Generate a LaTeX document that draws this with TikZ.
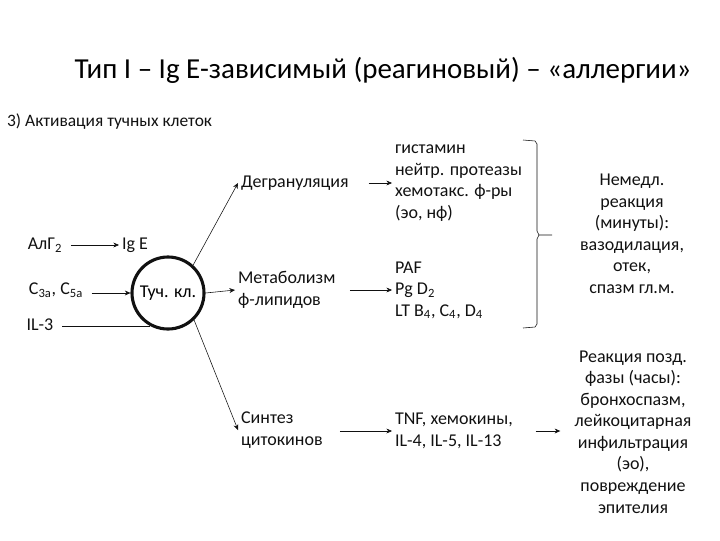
\documentclass[tikz,border=0pt]{standalone}
\usepackage{fontspec}
\setmainfont{Carlito}
\usetikzlibrary{arrows.meta,positioning,calc}
\definecolor{alInk}{HTML}{111111}
\tikzset{
  txt/.style={inner sep=2pt, font=\fontsize{12.8}{15.3}\selectfont, align=left, text=alInk},
  txtC/.style={txt, align=center},
  cellc/.style={circle, draw=alInk, line width=2.2pt, minimum size=1.8cm, inner sep=0pt, font=\fontsize{12.8}{14}\selectfont},
  arr/.style={-{Stealth[length=4pt,width=3.5pt]}, thin, draw=alInk},
  ln/.style={thin, draw=alInk},
}

\begin{document}
\begin{tikzpicture}[x=0.025cm, y=-0.025cm]
            \useasboundingbox (0,0) rectangle (720,540);
            \node[font=\fontsize{20.6}{24}\selectfont] (title) at (383,70) {Тип I – Ig E-зависимый (реагиновый) – «аллергии»};
            \node[txt, anchor=west, font=\fontsize{12.4}{14}\selectfont] (sub) at (4,122) {3) Активация тучных клеток};
            \node[cellc] (cell) at (168,293) {Туч. кл.};
            \node[txt] (alg) at (45,245) {АлГ\textsubscript{2}};
            \node[txt] (ige) at (135,245) {Ig E};
            \node[txt] (c35) at (56,290) {C\textsubscript{3a}, C\textsubscript{5a}};
            \node[txt] (il3) at (40,325) {IL-3};
            \node[txt, anchor=west] (degr) at (238,183) {Дегрануляция};
            \node[txt, anchor=west] (metab) at (235,290) {Метаболизм\\ф-липидов};
            \node[txt, anchor=west] (synth) at (238,430) {Синтез\\цитокинов};
            \node[txt, anchor=west] (gist) at (392,183) {гистамин\\нейтр. протеазы\\хемотакс. ф-ры\\(эо, нф)};
            \node[txt, anchor=west] (paf) at (392,290) {PAF\\Pg D\textsubscript{2}\\LT B\textsubscript{4}, C\textsubscript{4}, D\textsubscript{4}};
            \node[txt, anchor=west] (tnf) at (392,431) {TNF, хемокины,\\IL-4, IL-5, IL-13};
            \node[txtC] (imm) at (632,234) {Немедл.\\реакция\\(минуты):\\вазодилация,\\отек,\\спазм гл.м.};
            \node[txtC] (late) at (633,432) {Реакция позд.\\фазы (часы):\\бронхоспазм,\\лейкоцитарная\\инфильтрация\\(эо),\\повреждение\\эпителия};
            \coordinate (brtop) at (523,140);
            \coordinate (brmid) at (539,235);
            \coordinate (brbot) at (523,328);
            % inputs
            \draw[arr, shorten <=4pt] (alg.east) -- (ige.west);
            \draw[arr, shorten <=4pt] (c35.east |- cell.west) -- (cell.west);
            \draw[ln, shorten <=4pt] (il3.east |- cell.241) -- (cell.241);
            % outputs
            \draw[arr] (cell.48) -- (degr.west);
            \draw[arr] (cell.east) -- (metab.west);
            \draw[arr] (cell.-46) -- (synth.west);
            \draw[arr, shorten <=12pt] (degr.east) -- (gist.west);
            \draw[arr, shorten <=8pt] (metab.east) -- (metab.east -| paf.west);
            \draw[arr, shorten <=10pt] (synth.east |- tnf.west) -- (tnf.west);
            \draw[arr, shorten <=14pt, shorten >=8pt] (tnf.east) -- (late.west |- tnf.east);
            % bracket
            \draw[ln] (brtop) -- ++(12,1) -- ++(2,3) -- ([shift={(-2,-4)}]brmid) -- (brmid) -- ++(13,0);
            \draw[ln] (brbot) -- ++(12,-1) -- ++(2,-3) -- ([shift={(-2,4)}]brmid) -- (brmid);
        \end{tikzpicture}
\end{document}
